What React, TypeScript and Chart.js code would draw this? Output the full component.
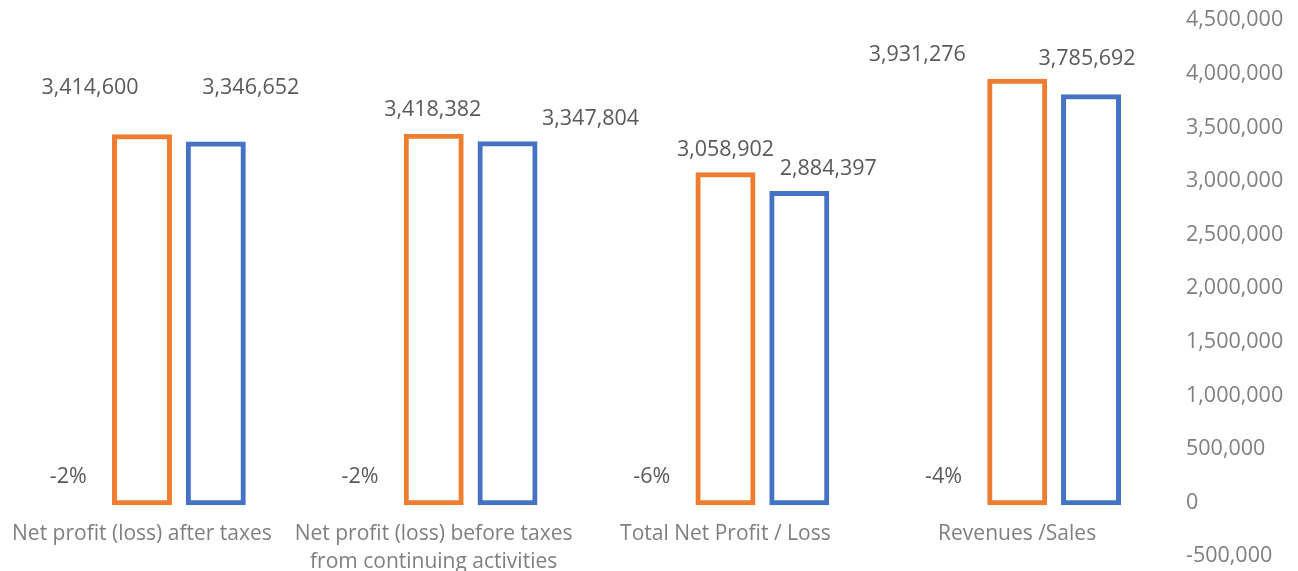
import React, { useEffect, useRef } from "react";
import { Chart, registerables } from "chart.js";

Chart.register(...registerables);

const categories: (string | string[])[] = [
  "Net profit (loss) after taxes",
  ["Net profit (loss) before taxes", "from continuing activities"],
  "Total Net Profit / Loss",
  "Revenues /Sales",
];
const previousValues = [3414600, 3418382, 3058902, 3931276];
const currentValues = [3346652, 3347804, 2884397, 3785692];
const changeLabels = ["-2%", "-2%", "-6%", "-4%"];
const yTicksMin = -500000;
const yTicksMax = 4500000;
const yTickStep = 500000;

const FONT = "'Open Sans', 'Noto Sans', sans-serif";

// label offsets (px) relative to each bar's top centre
const labelShift = [
  [[-52, -49], [-1, -26], [0, -25], [-100, -26]],
  [[35, -56], [83, -25], [29, -25], [-4, -38]],
];

const valueLabelsPlugin = {
  id: "valueLabels",
  afterDatasetsDraw(chart: any) {
    const ctx = chart.ctx;
    ctx.save();
    ctx.font = `21.5px ${FONT}`;
    ctx.fillStyle = "#595959";
    ctx.textAlign = "center";
    ctx.textBaseline = "middle";
    chart.data.datasets.forEach((ds: any, di: number) => {
      const meta = chart.getDatasetMeta(di);
      meta.data.forEach((el: any, i: number) => {
        const v = ds.data[i] as number;
        const [dx, dy] = labelShift[di][i];
        ctx.fillText(v.toLocaleString("en-US"), el.x + dx, el.y + dy);
      });
    });
    // percentage change labels, left of each group
    const xs = chart.scales.x;
    const ys = chart.scales.y;
    const catW = xs.width / categories.length;
    changeLabels.forEach((t, i) => {
      const x = xs.getPixelForValue(i) - catW * 0.379;
      const y = ys.getPixelForValue(240000);
      ctx.fillText(t, x, y);
    });
    ctx.restore();
  },
};

export default function App() {
  const ref = useRef<HTMLCanvasElement | null>(null);
  useEffect(() => {
    if (!ref.current) return;
    const chart = new Chart(ref.current, {
      type: "bar",
      data: {
        labels: categories,
        datasets: [
          {
            label: "Previous",
            data: previousValues,
            backgroundColor: "#ffffff",
            borderColor: "#ED7D31",
            borderWidth: 5,
            borderSkipped: false,
            inflateAmount: 2.5,
          } as any,
          {
            label: "Current",
            data: currentValues,
            backgroundColor: "#ffffff",
            borderColor: "#4472C4",
            borderWidth: 5,
            borderSkipped: false,
            inflateAmount: 2.5,
          } as any,
        ],
      },
      options: {
        animation: false,
        responsive: true,
        maintainAspectRatio: false,
        categoryPercentage: 0.506,
        barPercentage: 0.745,
        layout: { padding: { top: 20.3, bottom: 14.7, left: 33, right: 0 } },
        plugins: {
          legend: { display: false },
          tooltip: { enabled: false },
          title: { display: false },
        },
        scales: {
          x: {
            type: "category",
            position: { y: 0 } as any,
            grid: { display: false, drawTicks: false },
            border: { display: false },
            ticks: {
              color: "#7F7F7F",
              font: { family: FONT, size: 21, lineHeight: 1.33 },
              padding: 17,
              labelOffset: -37,
              maxRotation: 0,
              autoSkip: false,
            },
          },
          y: {
            position: "right",
            min: yTicksMin,
            max: yTicksMax,
            grid: { display: false, drawTicks: false },
            border: { display: false },
            afterFit: (scale: any) => {
              scale.width = 98;
              scale._computeLabelArea = () => undefined;
            },
            ticks: {
              stepSize: yTickStep,
              color: "#7F7F7F",
              font: { family: FONT, size: 21.5 },
              padding: -14,
              callback: (v: any) => Number(v).toLocaleString("en-US"),
            },
          },
        },
      },
      plugins: [valueLabelsPlugin],
    });
    return () => chart.destroy();
  }, []);
  return (
    <div style={{ position: "fixed", left: 0, top: 0, width: 1298, height: 571, background: "#fff" }}>
      <canvas ref={ref} />
    </div>
  );
}
